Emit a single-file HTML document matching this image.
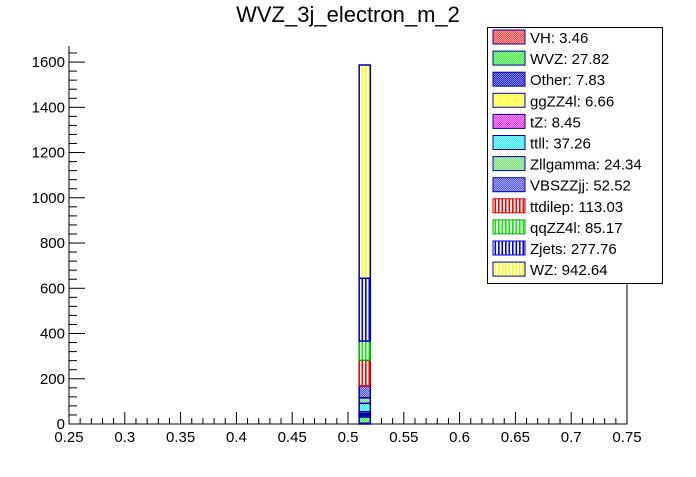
<!DOCTYPE html>
<html><head><meta charset="utf-8"><style>
body{margin:0;background:#fff;width:696px;height:472px;overflow:hidden;font-family:"Liberation Sans",sans-serif}
</style></head><body>
<svg id="c" width="696" height="472" xmlns="http://www.w3.org/2000/svg" font-family="Liberation Sans, sans-serif">
<defs></defs>
<text x="348" y="22" font-size="22" text-anchor="middle">WVZ_3j_electron_m_2</text>
<g id="axes"></g><g id="bars"></g><g id="legend"></g>
</svg>
<script>
const names=["VH","WVZ","Other","ggZZ4l","tZ","ttll","Zllgamma","VBSZZjj","ttdilep","qqZZ4l","Zjets","WZ"];
const values=[3.46,27.82,7.83,6.66,8.45,37.26,24.34,52.52,113.03,85.17,277.76,942.64];
const colors=["#ff4444","#44ee44","#2222dd","#ffff33","#ee33ee","#33eeee","#77dd77","#5555ee","#ff0000","#00ee00","#0000ff","#ffff00"];
const edge=["#0000aa","#0000aa","#0000aa","#0000aa","#0000aa","#0000aa","#0000aa","#0000aa","#cc0000","#00aa00","#0000aa","#0000aa"];
const vertical=[false,false,false,false,false,false,false,false,true,true,true,true];
const xTicks=[0.25,0.3,0.35,0.4,0.45,0.5,0.55,0.6,0.65,0.7,0.75];
const yTicks=[0,200,400,600,800,1000,1200,1400,1600];
const binLo=0.51, binHi=0.52;
const X0=69,X1=627,Y0=424,Y1=46,xmin=0.25,xmax=0.75,ymax=1671;
const sx=v=>X0+(v-xmin)/(xmax-xmin)*(X1-X0);
const sy=v=>Y0-v/ymax*(Y0-Y1);
const NS="http://www.w3.org/2000/svg";
function mk(t,a,p){const e=document.createElementNS(NS,t);for(const k in a)e.setAttribute(k,a[k]);p.appendChild(e);return e;}
const svg=document.getElementById('c');const defs=svg.querySelector('defs');
colors.forEach((c,i)=>{
 let p;
 if(vertical[i]){p=mk('pattern',{id:'p'+i,width:3.5,height:4,patternUnits:'userSpaceOnUse'},defs);
  mk('rect',{width:3.5,height:4,fill:'#fff'},p);mk('rect',{x:1,width:1.6,height:4,fill:c},p);}
 else{p=mk('pattern',{id:'p'+i,width:2,height:2,patternUnits:'userSpaceOnUse'},defs);
  mk('rect',{width:2,height:2,fill:c},p);mk('rect',{width:1,height:1,fill:'#fff',opacity:0.5},p);mk('rect',{x:1,y:1,width:1,height:1,fill:'#fff',opacity:0.5},p);}
});
const ax=document.getElementById('axes');
let f=mk('path',{d:`M${X0},${Y1}V${Y0}H${X1}V${Y1}`,stroke:'#000',fill:'none','stroke-width':1},ax);

for(let v=0.25;v<=0.7501;v+=0.01){const x=sx(v);const major=Math.abs(Math.round(v*100)%5)==0;
 mk('line',{x1:x,x2:x,y1:Y0,y2:Y0-(major?12:6),stroke:'#000'},ax);}
xTicks.forEach(v=>{const t=mk('text',{x:sx(v),y:Y0+18,'font-size':15,'text-anchor':'middle'},ax);t.textContent=String(v);
 });
for(let v=0;v<=ymax;v+=40){const y=sy(v);const major=v%200==0;mk('line',{x1:X0,x2:X0+(major?16:8),y1:y,y2:y,stroke:'#000'},ax);}
yTicks.forEach(v=>{const t=mk('text',{x:X0-4,y:sy(v)+5,'font-size':15,'text-anchor':'end'},ax);t.textContent=String(v);
 });
const bg=document.getElementById('bars');let cum=0;
values.forEach((v,i)=>{const y0=sy(cum),y1=sy(cum+v);cum+=v;
 const r=mk('rect',{x:sx(binLo),y:y1,width:sx(binHi)-sx(binLo),height:y0-y1,fill:`url(#p${i})`,stroke:edge[i],'stroke-width':1.5},bg);
 });
const lg=document.getElementById('legend');
let b=mk('rect',{x:487.5,y:27.5,width:175,height:256,fill:'#fff',stroke:'#000'},lg);

names.forEach((n,i)=>{const cy=37+i*21.1;
 const s=mk('rect',{x:493,y:cy-7,width:32,height:14,fill:`url(#p${i})`,stroke:edge[i],'stroke-width':1},lg);
 
 const t=mk('text',{x:530,y:cy+6,'font-size':15},lg);t.textContent=n+": "+values[i].toFixed(2);
 });
</script>
</body></html>
